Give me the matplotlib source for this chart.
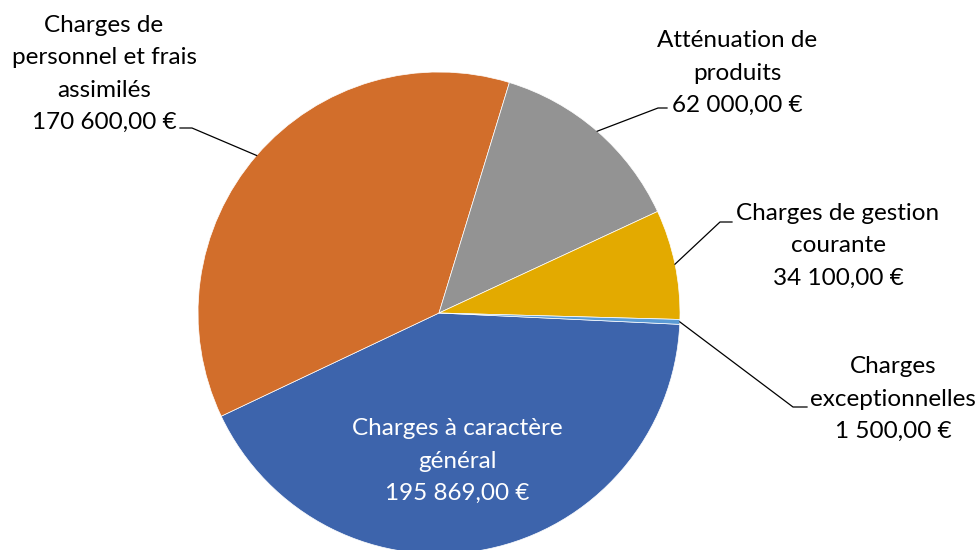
import numpy as np
import matplotlib
matplotlib.use("Agg")
import matplotlib.pyplot as plt

plt.rcParams['font.family'] = ['Lato', 'DejaVu Sans']

# Data
labels = ["Charges à caractère\ngénéral", "Charges de\npersonnel et frais\nassimilés",
          "Atténuation de\nproduits", "Charges de gestion\ncourante", "Charges\nexceptionnelles"]
values = [195869.00, 170600.00, 62000.00, 34100.00, 1500.00]
colors = ["#3D64AC", "#D26E2B", "#939393", "#E3AA00", "#5B9BD5"]


def euro(v):
    s = f"{v:,.2f}".replace(",", " ").replace(".", ",")
    return s + " €"


W, H = 980, 550
fig = plt.figure(figsize=(W / 100, H / 100), dpi=100)
ax = fig.add_axes([0, 0, 1, 1])

cx, cy, r = 439, 237, 241
wedges, _ = ax.pie(values, colors=colors, startangle=-2.7, counterclock=False,
                   center=(cx, cy), radius=r, frame=True,
                   wedgeprops=dict(edgecolor='white', linewidth=0.5))
ax.set_xlim(0, W)
ax.set_ylim(0, H)
ax.set_aspect('equal')
ax.axis('off')

# label block centre, elbow of leader, end of leader (None = inside label)
placements = [
    ((457, 89), None),
    ((104, 476), [(192, 422), (180, 422)]),
    ((737, 477), [(658, 442), (667, 442)]),
    ((838, 304), [(720, 328), (732, 328)]),
    ((893, 151), [(793, 143), (807, 143)]),
]

fs = 17.5
for w, lab, val, (pos, leader) in zip(wedges, labels, values, placements):
    txt = lab + "\n" + euro(val)
    col = 'white' if leader is None else 'black'
    ax.text(pos[0], pos[1], txt, ha='center', va='center', fontsize=fs,
            color=col, linespacing=1.65)
    if leader is not None:
        mid = np.deg2rad((w.theta1 + w.theta2) / 2)
        x0 = cx + r * np.cos(mid)
        y0 = cy + r * np.sin(mid)
        xs = [x0] + [p[0] for p in leader]
        ys = [y0] + [p[1] for p in leader]
        ax.plot(xs, ys, color='black', lw=0.9)

fig.savefig("out.png", dpi=100)
